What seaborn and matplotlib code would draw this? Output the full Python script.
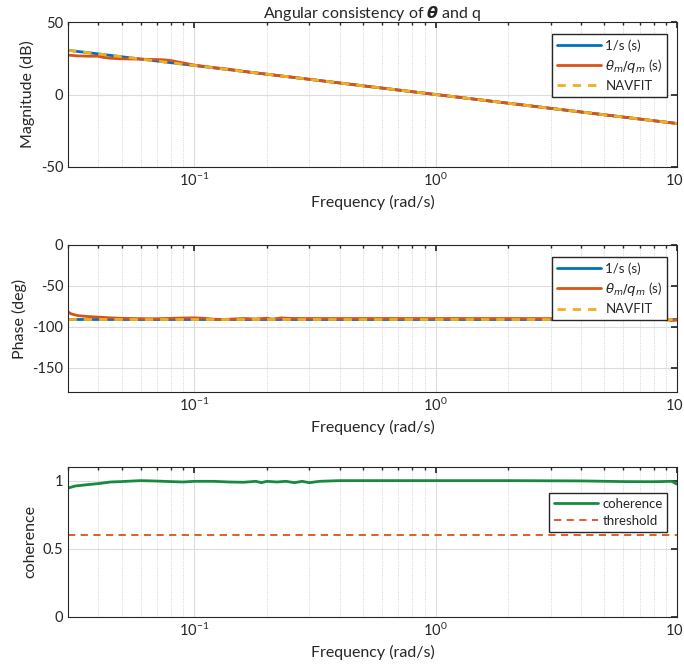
import numpy as np
import pandas as pd
import seaborn as sns
import matplotlib.pyplot as plt
from matplotlib.ticker import LogLocator, NullFormatter

# frequency grid (rad/s) and values
freq_ref = [0.03, 0.1, 1.0, 10.0]
mag_ideal = [30.5, 20.0, 0.0, -20.0]          # 1/s and NAVFIT
phase_ideal = [-90.0, -90.0, -90.0, -90.0]

freq_meas = [0.03, 0.033, 0.037, 0.04, 0.042, 0.045, 0.05, 0.055, 0.06, 0.065, 0.07, 0.075,
             0.08, 0.09, 0.1, 0.12, 0.14, 0.17, 0.2, 0.3, 0.5, 1.0, 2.0, 5.0, 10.0]
mag_meas = [27.2, 26.6, 26.4, 26.4, 25.6, 25.0, 24.6, 24.5, 24.4, 24.2, 24.1, 23.9,
            23.4, 21.8, 20.3, 18.6, 17.4, 15.4, 14.0, 10.5, 6.0, 0.0, -6.0, -14.0, -20.0]

freq_ph = [0.03, 0.031, 0.033, 0.036, 0.04, 0.045, 0.05, 0.06, 0.07, 0.08, 0.09, 0.1, 0.11,
           0.12, 0.13, 0.14, 0.16, 0.18, 0.2, 0.21, 0.22, 0.23, 0.25, 0.3, 0.5, 1.0, 2.0,
           5.0, 8.0, 9.0, 9.5, 10.0]
phase_meas = [-82.0, -84.5, -86.5, -87.5, -88.3, -89.2, -89.8, -90.2, -90.3, -89.8, -89.4, -89.2, -89.7,
              -90.8, -91.3, -90.8, -90.0, -90.6, -89.6, -90.8, -90.0, -89.3, -89.9, -90.0, -90.0, -90.0, -90.0,
              -90.2, -91.0, -91.5, -92.5, -92.0]

freq_coh = [0.03, 0.032, 0.035, 0.04, 0.045, 0.05, 0.055, 0.06, 0.07, 0.08, 0.09, 0.1, 0.12,
            0.14, 0.16, 0.18, 0.19, 0.2, 0.22, 0.24, 0.26, 0.28, 0.3, 0.33, 0.4, 0.6, 1.0,
            2.0, 4.0, 6.0, 8.0, 9.5, 10.0]
coherence = [0.945, 0.96, 0.968, 0.978, 0.99, 0.993, 0.997, 1.0, 0.997, 0.993, 0.99, 0.995, 0.995,
             0.99, 0.988, 0.995, 0.985, 0.995, 0.99, 0.995, 0.985, 0.995, 0.985, 0.995, 1.0, 1.0, 1.0,
             1.0, 0.998, 0.993, 0.992, 0.995, 0.975]
threshold = 0.6

blue, red, yellow, green = '#0072BD', '#D95319', '#EDB120', '#188A40'

sns.set_theme(style='white')
plt.rcParams['font.family'] = ['Lato', 'DejaVu Sans']
plt.rcParams['mathtext.fontset'] = 'dejavusans'
plt.rcParams['axes.unicode_minus'] = False

fig = plt.figure(figsize=(6.84, 6.72), dpi=100)
ax1 = fig.add_axes([68/684, 1 - 167/672, 609/684, 145/672])
ax2 = fig.add_axes([68/684, 1 - 392/672, 609/684, 147/672])
ax3 = fig.add_axes([68/684, 1 - 617/672, 609/684, 150/672])

df_mag_i = pd.DataFrame({'f': freq_ref, 'v': mag_ideal})
df_mag_m = pd.DataFrame({'f': freq_meas, 'v': mag_meas})
df_ph_i = pd.DataFrame({'f': freq_ref, 'v': phase_ideal})
df_ph_m = pd.DataFrame({'f': freq_ph, 'v': phase_meas})
df_coh = pd.DataFrame({'f': freq_coh, 'v': coherence})

for ax, di, dm in [(ax1, df_mag_i, df_mag_m), (ax2, df_ph_i, df_ph_m)]:
    sns.lineplot(data=di, x='f', y='v', ax=ax, color=blue, lw=2, label='1/s (s)')
    sns.lineplot(data=dm, x='f', y='v', ax=ax, color=red, lw=2, label=r'$\theta_m/q_m$ (s)')
    sns.lineplot(data=di, x='f', y='v', ax=ax, color=yellow, lw=2, ls=(0, (3, 2.5)), label='NAVFIT')

sns.lineplot(data=df_coh, x='f', y='v', ax=ax3, color=green, lw=2, label='coherence')
ax3.plot([0.03, 10], [threshold, threshold], color=red, lw=1.3, ls=(0, (4, 3)), label='threshold')

ax1.set_ylim(-50, 50)
ax1.set_yticks([-50, 0, 50])
ax1.set_ylabel('Magnitude (dB)', fontsize=11.5, color='#262626')
ax1.set_title(r'Angular consistency of $\boldsymbol{\theta}$ and q', fontsize=11.5, pad=3)
ax2.set_ylim(-180, 0)
ax2.set_yticks([-150, -100, -50, 0])
ax2.set_ylabel('Phase (deg)', fontsize=11.5, color='#262626')
ax3.set_ylim(0, 1.1)
ax3.set_yticks([0, 0.5, 1])
ax3.set_yticklabels(['0', '0.5', '1'])
ax3.set_ylabel('coherence', fontsize=11.5, color='#262626')

for ax in (ax1, ax2, ax3):
    ax.set_xscale('log')
    ax.set_xlim(0.03, 10)
    ax.set_xticks([0.1, 1, 10])
    ax.xaxis.set_minor_locator(LogLocator(base=10, subs=np.arange(2, 10), numticks=20))
    ax.xaxis.set_minor_formatter(NullFormatter())
    ax.set_xlabel('Frequency (rad/s)', fontsize=11.5, color='#262626')
    ax.grid(True, which='major', color='#dcdcdc', lw=0.8)
    ax.grid(True, which='minor', axis='x', color='#c8c8c8', lw=0.6, ls=':')
    ax.set_axisbelow(True)
    ax.tick_params(which='both', direction='in', top=True, right=True, colors='#262626', labelsize=10.5)
    ax.tick_params(which='major', length=4)
    ax.tick_params(which='minor', length=2)
    for s in ax.spines.values():
        s.set_color('#262626')
        s.set_linewidth(0.8)

legend_kw = dict(loc='upper right', fancybox=False, edgecolor='#262626', framealpha=1,
                 fontsize=9.5, handlelength=3.4, handletextpad=0.3, borderpad=0.35,
                 labelspacing=0.4)
ax1.legend(bbox_to_anchor=(0.995, 0.96), **legend_kw)
ax2.legend(bbox_to_anchor=(0.995, 0.96), **legend_kw)
ax3.legend(bbox_to_anchor=(0.995, 0.87), **legend_kw)

fig.savefig('out.png', dpi=100)
